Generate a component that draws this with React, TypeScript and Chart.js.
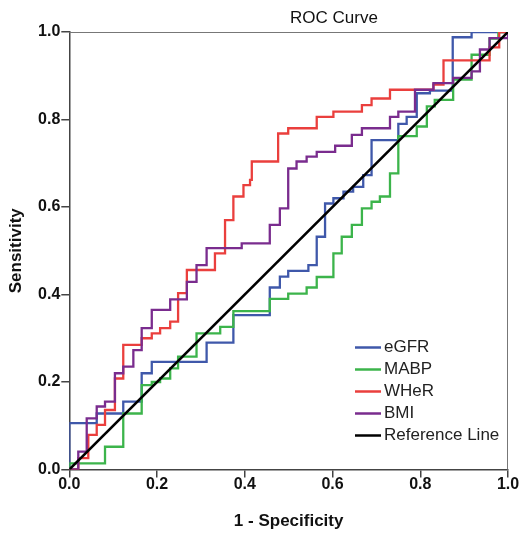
import React, { useEffect, useRef } from "react";
import { Chart, registerables } from "chart.js";

Chart.register(...registerables);

const tickValues = [0, 0.2, 0.4, 0.6, 0.8, 1.0];
const seriesNames = ["eGFR", "MABP", "WHeR", "BMI", "Reference Line"];
const seriesColors = ["#3f58aa", "#3cb44b", "#ea3f3d", "#7a2c8e", "#000000"];

const egfrFpr = [0, 0, 0.0625, 0.123, 0.165, 0.188, 0.313, 0.374, 0.457, 0.48, 0.499, 0.545, 0.564, 0.583, 0.602, 0.625, 0.647, 0.67, 0.689, 0.75, 0.769, 0.792, 0.822, 0.874, 0.917, 1];
const egfrTpr = [0, 0.106, 0.128, 0.155, 0.22, 0.246, 0.29, 0.353, 0.416, 0.441, 0.454, 0.467, 0.532, 0.608, 0.62, 0.635, 0.646, 0.673, 0.753, 0.79, 0.806, 0.86, 0.866, 0.988, 1.0, 1.0];

const mabpFpr = [0, 0, 0.0814, 0.123, 0.165, 0.188, 0.207, 0.23, 0.248, 0.29, 0.344, 0.374, 0.457, 0.499, 0.541, 0.564, 0.602, 0.621, 0.644, 0.667, 0.689, 0.708, 0.731, 0.75, 0.792, 0.815, 0.833, 0.875, 0.917, 0.958, 0.978, 1];
const mabpTpr = [0, 0.014, 0.052, 0.128, 0.193, 0.2, 0.208, 0.231, 0.258, 0.311, 0.326, 0.362, 0.39, 0.402, 0.416, 0.44, 0.494, 0.532, 0.559, 0.597, 0.612, 0.624, 0.677, 0.762, 0.784, 0.83, 0.845, 0.891, 0.948, 0.985, 1.0, 1.0];

const wherFpr = [0, 0.0205, 0.0433, 0.0625, 0.0814, 0.104, 0.123, 0.165, 0.188, 0.207, 0.23, 0.248, 0.268, 0.332, 0.355, 0.374, 0.397, 0.412, 0.416, 0.476, 0.499, 0.564, 0.602, 0.667, 0.689, 0.731, 0.83, 0.853, 0.958, 0.98, 1];
const wherTpr = [0, 0.026, 0.079, 0.102, 0.136, 0.208, 0.285, 0.3, 0.311, 0.323, 0.338, 0.403, 0.456, 0.494, 0.57, 0.624, 0.65, 0.662, 0.704, 0.768, 0.78, 0.806, 0.818, 0.833, 0.848, 0.868, 0.88, 0.935, 0.965, 1.0, 1.0];

const bmiFpr = [0, 0.0205, 0.0397, 0.0625, 0.0814, 0.104, 0.123, 0.146, 0.165, 0.188, 0.23, 0.268, 0.29, 0.313, 0.393, 0.457, 0.48, 0.499, 0.518, 0.541, 0.564, 0.606, 0.644, 0.667, 0.731, 0.75, 0.788, 0.83, 0.875, 0.917, 0.936, 0.958, 1];
const bmiTpr = [0, 0.041, 0.117, 0.144, 0.155, 0.22, 0.235, 0.273, 0.323, 0.365, 0.389, 0.429, 0.467, 0.506, 0.517, 0.559, 0.597, 0.688, 0.704, 0.715, 0.726, 0.74, 0.765, 0.78, 0.806, 0.818, 0.868, 0.883, 0.895, 0.91, 0.96, 0.986, 1.0];

const refFpr = [0, 1];
const refTpr = [0, 1];

const FONT = "'Liberation Sans', Arial, sans-serif";

export default function App() {
  const ref = useRef<HTMLCanvasElement>(null);

  useEffect(() => {
    document.body.style.margin = "0";
    const pts = (f: number[], t: number[]) => f.map((x, i) => ({ x, y: t[i] }));
    const all = [
      pts(egfrFpr, egfrTpr),
      pts(mabpFpr, mabpTpr),
      pts(wherFpr, wherTpr),
      pts(bmiFpr, bmiTpr),
      pts(refFpr, refTpr),
    ];
    const orders = [4, 3, 2, 1, 0];

    const decor = {
      id: "decor",
      beforeDatasetsDraw(chart: any) {
        const { ctx, chartArea: a } = chart;
        ctx.save();
        ctx.strokeStyle = "#777";
        ctx.lineWidth = 1;
        ctx.beginPath();
        ctx.moveTo(a.left, a.top + 0.5);
        ctx.lineTo(a.right - 0.5, a.top + 0.5);
        ctx.lineTo(a.right - 0.5, a.bottom);
        ctx.stroke();
        ctx.restore();
      },
      afterDraw(chart: any) {
        const { ctx } = chart;
        ctx.save();
        // title
        ctx.fillStyle = "#111";
        ctx.font = `17px ${FONT}`;
        ctx.textAlign = "left";
        ctx.textBaseline = "middle";
        ctx.fillText("ROC Curve", 290, 18.5);
        // legend
        ctx.font = `17px ${FONT}`;
        chart.data.datasets.forEach((ds: any, i: number) => {
          const y = 347.5 + i * 22;
          ctx.strokeStyle = ds.borderColor;
          ctx.lineWidth = 2.5;
          ctx.beginPath();
          ctx.moveTo(355, y);
          ctx.lineTo(381, y);
          ctx.stroke();
          ctx.fillStyle = "#222";
          ctx.fillText(ds.label, 384, y);
        });
        ctx.restore();
      },
    };

    const chart = new Chart(ref.current!, {
      type: "line",
      data: {
        datasets: all.map((d, i) => ({
          label: seriesNames[i],
          data: d,
          borderColor: seriesColors[i],
          backgroundColor: seriesColors[i],
          borderWidth: i === 4 ? 2.6 : 2.3,
          pointRadius: 0,
          stepped: i === 4 ? false : "before",
          order: orders[i],
          fill: false,
        })),
      },
      options: {
        animation: false,
        responsive: true,
        maintainAspectRatio: false,
        layout: { padding: { left: 0, right: 12, top: 32, bottom: 0 } },
        plugins: {
          legend: { display: false },
          title: { display: false },
          tooltip: { enabled: false },
        },
        scales: {
          x: {
            type: "linear",
            min: 0,
            max: 1,
            afterBuildTicks: (s: any) => {
              s.ticks = tickValues.map((v) => ({ value: v }));
            },
            afterFit: (s: any) => {
              s.height = 64.5;
            },
            ticks: {
              callback: (v: any) => Number(v).toFixed(1),
              color: "#111",
              font: { family: FONT, size: 16, weight: "bold" },
              padding: -3,
              maxRotation: 0,
            },
            grid: { drawOnChartArea: false, drawTicks: true, tickLength: 8, color: "#444", lineWidth: 1.5 },
            border: { display: true, color: "#444", width: 1.5 },
            title: {
              display: true,
              text: "1 - Specificity",
              color: "#111",
              font: { family: FONT, size: 17, weight: "bold" },
              padding: { top: 0, bottom: 2 },
            },
          },
          y: {
            type: "linear",
            min: 0,
            max: 1,
            afterBuildTicks: (s: any) => {
              s.ticks = tickValues.map((v) => ({ value: v }));
            },
            afterFit: (s: any) => {
              s.width = 69.3;
            },
            ticks: {
              callback: (v: any) => Number(v).toFixed(1),
              color: "#111",
              font: { family: FONT, size: 16, weight: "bold" },
              padding: 1,
            },
            grid: { drawOnChartArea: false, drawTicks: true, tickLength: 8, color: "#444", lineWidth: 1.5 },
            border: { display: true, color: "#444", width: 1.5 },
            title: {
              display: true,
              text: "Sensitivity",
              color: "#111",
              font: { family: FONT, size: 17, weight: "bold" },
              padding: { top: 6, bottom: 0 },
            },
          },
        },
      },
      plugins: [decor],
    });
    return () => chart.destroy();
  }, []);

  return (
    <div style={{ width: 520, height: 534, position: "relative" }}>
      <canvas ref={ref} />
    </div>
  );
}
